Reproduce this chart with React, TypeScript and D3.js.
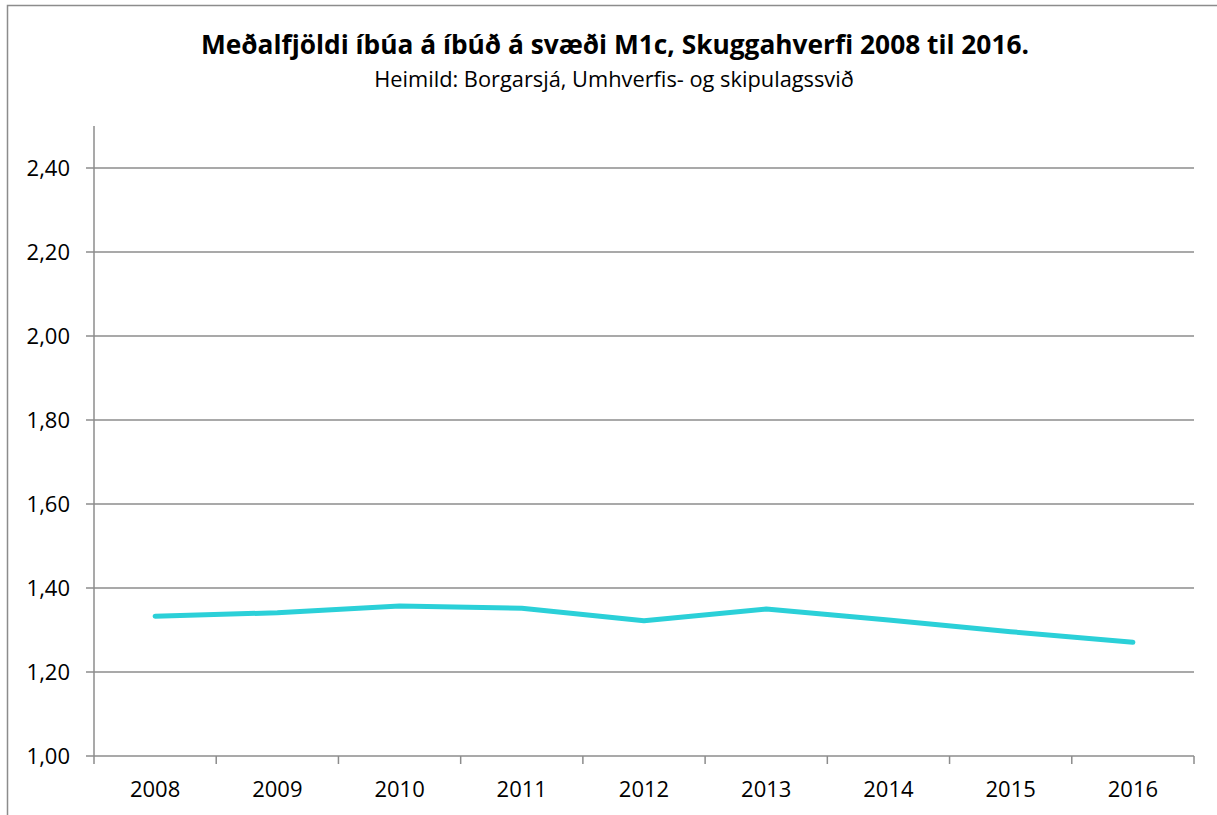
import React from "react";
import * as d3 from "d3";

const years = ["2008", "2009", "2010", "2011", "2012", "2013", "2014", "2015", "2016"];
const values = [1.333, 1.341, 1.357, 1.352, 1.322, 1.35, 1.324, 1.296, 1.271];
const yTicks = [1.0, 1.2, 1.4, 1.6, 1.8, 2.0, 2.2, 2.4];
const title = "Meðalfjöldi íbúa á íbúð á svæði M1c, Skuggahverfi 2008 til 2016.";
const subtitle = "Heimild: Borgarsjá, Umhverfis- og skipulagssvið";

const W = 1217;
const H = 815;
const left = 94;
const right = 1194;
const top = 126;
const bottom = 756;
const font = "'Open Sans', Lato, sans-serif";

export default function App() {
  const x = d3.scaleBand().domain(years).range([left, right]).padding(0);
  const y = d3.scaleLinear().domain([1.0, 2.5]).range([bottom, top]);
  const line = d3
    .line<number>()
    .x((_, i) => (x(years[i]) as number) + x.bandwidth() / 2)
    .y((d) => y(d));
  const fmt = (v: number) => v.toFixed(2).replace(".", ",");
  const axisColor = "#8c8c8c";
  const boundaries = [...years.map((yr) => x(yr) as number), right];

  return (
    <svg
      width={W}
      height={H}
      style={{ position: "absolute", left: 0, top: 0, display: "block", background: "#fff" }}
    >
      <rect x={7.5} y={5.5} width={1230} height={830} fill="#fff" stroke="#8c8c8c" strokeWidth={1.5} />
      <text x={615} y={54} textAnchor="middle" fontFamily={font} fontWeight={700} fontSize={26.3} fill="#000">
        {title}
      </text>
      <text x={614} y={87} textAnchor="middle" fontFamily={font} fontSize={21.8} fill="#000">
        {subtitle}
      </text>
      {yTicks.map((t) => (
        <g key={t}>
          {t > 1.0 && (
            <line x1={left} x2={right} y1={y(t)} y2={y(t)} stroke={axisColor} strokeWidth={1.5} />
          )}
          <line x1={86} x2={left} y1={y(t)} y2={y(t)} stroke={axisColor} strokeWidth={1.5} />
          <text x={70} y={y(t) + 8} textAnchor="end" fontFamily={font} fontSize={22} fill="#000">
            {fmt(t)}
          </text>
        </g>
      ))}
      <line x1={left} x2={left} y1={top} y2={bottom} stroke={axisColor} strokeWidth={1.5} />
      <line x1={left} x2={right} y1={bottom} y2={bottom} stroke={axisColor} strokeWidth={1.5} />
      {boundaries.map((b, i) => (
        <line key={i} x1={b} x2={b} y1={bottom} y2={bottom + 8} stroke={axisColor} strokeWidth={1.5} />
      ))}
      {years.map((yr) => (
        <text
          key={yr}
          x={(x(yr) as number) + x.bandwidth() / 2}
          y={797}
          textAnchor="middle"
          fontFamily={font}
          fontSize={22}
          fill="#000"
        >
          {yr}
        </text>
      ))}
      <path
        d={line(values) || ""}
        fill="none"
        stroke="#2bd0d8"
        strokeWidth={5}
        strokeLinecap="round"
        strokeLinejoin="round"
      />
    </svg>
  );
}
